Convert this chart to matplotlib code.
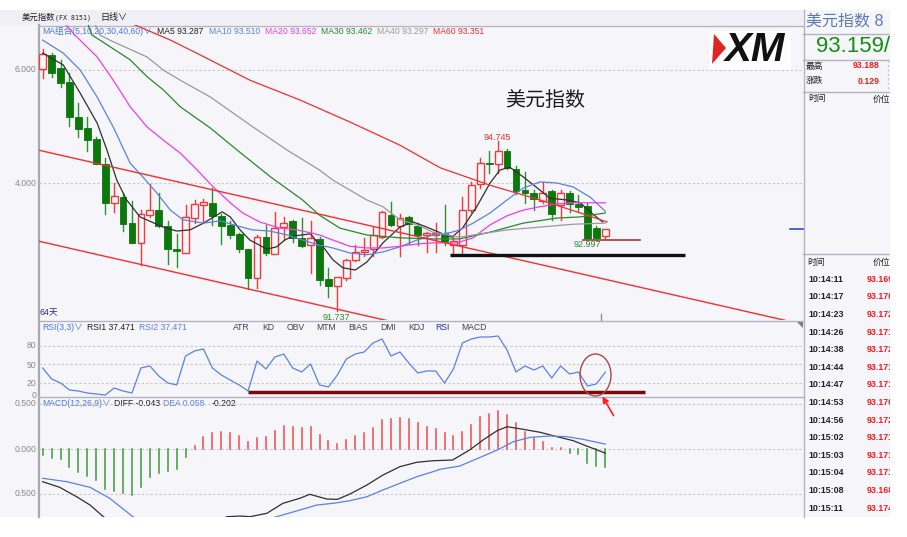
import matplotlib
matplotlib.use("Agg")
import matplotlib.pyplot as plt
from matplotlib.patches import Rectangle, Polygon, Ellipse, FancyArrowPatch

plt.rcParams['font.family'] = ['Liberation Sans', 'Noto Sans CJK SC', 'DejaVu Sans']

W, H = 907, 537
BG = '#f5f5fa'
RED = '#f23a3a'
GREEN = '#0b780b'

## K线数据 (日线, 64根)
opens = [96.01, 96.27, 96.03, 95.79, 95.16, 94.98, 94.78, 94.34, 93.64, 93.76,
         93.29, 92.94, 93.43, 93.52, 93.24, 92.84, 92.76, 93.38, 93.61, 93.64,
         93.42, 93.26, 93.10, 92.84, 92.32, 93.05, 92.74, 93.23, 93.32, 93.03,
         92.90, 93.00, 92.30, 92.17, 92.31, 92.64, 92.78, 92.84, 93.05, 93.43,
         93.24, 93.39, 93.24, 93.08, 93.08, 93.11, 92.90, 92.90, 93.53, 93.98,
         94.36, 94.33, 94.57, 94.24, 93.87, 93.83, 93.69, 93.85, 93.61, 93.82,
         93.62, 93.59, 93.21, 93.06]
highs = [96.37, 96.31, 96.17, 95.94, 95.41, 95.16, 94.82, 94.44, 94.00, 93.82,
         93.68, 93.52, 93.98, 93.82, 93.32, 93.09, 93.61, 93.70, 93.71, 93.91,
         93.46, 93.32, 93.11, 92.84, 93.08, 93.26, 93.48, 93.40, 93.35, 93.38,
         93.33, 93.05, 92.49, 92.33, 92.66, 92.90, 93.02, 93.23, 93.50, 93.67,
         93.46, 93.42, 93.29, 93.14, 93.29, 93.61, 93.05, 93.76, 94.02, 94.44,
         94.57, 94.745, 94.61, 94.30, 94.20, 93.88, 94.02, 93.88, 93.88, 93.85,
         93.79, 93.64, 93.24, 93.18]
lows = [95.85, 95.87, 95.70, 95.01, 94.82, 94.57, 94.33, 93.46, 93.49, 93.15,
        92.93, 92.55, 93.39, 93.23, 92.57, 92.52, 92.76, 93.29, 93.30, 93.26,
        92.92, 93.02, 92.78, 92.12, 92.15, 92.73, 92.74, 92.99, 92.96, 92.87,
        92.40, 92.20, 91.99, 91.737, 92.29, 92.62, 92.71, 92.70, 93.02, 93.24,
        92.70, 92.92, 92.90, 92.78, 92.78, 92.90, 92.76, 92.76, 93.49, 93.92,
        94.17, 94.18, 94.24, 93.80, 93.64, 93.52, 93.65, 93.35, 93.35, 93.49,
        93.49, 92.997, 92.99, 93.00]
closes = [96.28, 95.95, 95.77, 95.17, 94.95, 94.77, 94.34, 93.64, 93.77, 93.27,
          92.94, 93.45, 93.52, 93.24, 92.84, 92.80, 93.40, 93.62, 93.66, 93.42,
          93.24, 93.08, 92.83, 92.32, 93.04, 92.76, 93.20, 93.30, 93.02, 92.89,
          93.02, 92.28, 92.18, 92.33, 92.64, 92.77, 92.81, 93.08, 93.49, 93.26,
          93.38, 93.27, 93.08, 93.11, 93.11, 92.96, 92.98, 93.53, 93.96, 94.35,
          94.345, 94.57, 94.27, 93.85, 93.83, 93.72, 93.82, 93.45, 93.83, 93.62,
          93.58, 93.00, 93.03, 93.18]

## 均线 (读图取点: K线序号, 价格)
ma5_x = [0.0, 2.3, 4.2, 6.1, 7.2, 8.3, 9.4, 10.9, 13.5, 15.0, 16.5, 18.0, 20.1, 21.0,
         22.1, 23.2, 25.1, 26.2, 27.1, 28.0, 30.0, 30.7, 31.4, 32.5, 33.6, 35.0, 36.3,
         38.1, 40.0, 41.5, 43.0, 44.5, 45.8, 47.0, 48.6, 50.1, 51.2, 52.3, 53.8, 55.4,
         56.8, 58.7, 60.2, 61.3, 62.7]
ma5_y = [96.30, 96.09, 95.59, 95.06, 94.58, 94.05, 93.70, 93.40, 93.22, 93.15, 93.17,
         93.29, 93.49, 93.40, 93.17, 92.99, 92.83, 92.87, 92.99, 93.06, 93.10, 92.96,
         92.87, 92.64, 92.50, 92.46, 92.60, 92.94, 93.22, 93.31, 93.22, 93.12, 93.04,
         93.20, 93.58, 94.00, 94.23, 94.28, 94.11, 93.91, 93.73, 93.70, 93.65, 93.49, 93.31]
ma10_x = [0.0, 2.3, 4.2, 6.1, 7.9, 9.8, 11.2, 12.8, 14.3, 15.7, 18.0, 19.9, 21.8, 23.5,
          25.4, 27.4, 29.1, 31.0, 32.5, 34.4, 36.3, 38.1, 40.0, 41.9, 43.7, 45.6, 46.7,
          48.2, 50.1, 52.0, 53.8, 55.7, 57.6, 59.4, 61.3, 63.0]
ma10_y = [96.53, 96.30, 96.00, 95.52, 94.99, 94.35, 94.11, 93.82, 93.52, 93.35, 93.29,
          93.33, 93.24, 93.17, 93.15, 93.08, 92.99, 92.90, 92.85, 92.76, 92.73, 92.78,
          92.87, 92.99, 93.08, 93.12, 93.17, 93.29, 93.47, 93.70, 93.91, 94.02, 94.00,
          93.93, 93.75, 93.50]
ma20_x = [2.6, 3.6, 6.1, 7.9, 9.8, 11.7, 13.5, 15.4, 17.3, 19.1, 21.0, 22.4, 24.3, 26.6,
          28.5, 31.0, 32.5, 34.4, 36.3, 38.1, 40.0, 41.9, 43.7, 46.4, 48.2, 50.1, 52.0,
          53.8, 55.7, 57.6, 59.4, 63.0]
ma20_y = [96.80, 96.62, 96.23, 95.82, 95.35, 94.99, 94.76, 94.53, 94.23, 93.93, 93.65,
          93.47, 93.31, 93.20, 93.17, 93.08, 92.99, 92.88, 92.85, 92.85, 92.88, 92.92,
          92.94, 92.94, 93.03, 93.26, 93.42, 93.52, 93.58, 93.63, 93.65, 93.65]
ma30_x = [5.1, 5.5, 6.4, 9.8, 11.7, 13.5, 15.4, 18.8, 21.8, 25.5, 29.1, 31.0, 33.3, 36.3,
          40.0, 43.7, 46.7, 50.1, 53.8, 57.6, 60.2, 63.0]
ma30_y = [96.80, 96.62, 96.53, 96.18, 95.88, 95.65, 95.35, 94.97, 94.58, 94.11, 93.70,
          93.43, 93.20, 93.08, 93.03, 93.01, 93.01, 93.13, 93.29, 93.38, 93.40, 93.47]
ma40_x = [5.9, 6.4, 7.5, 11.7, 13.5, 15.4, 18.8, 23.2, 27.4, 31.0, 32.5, 36.3, 38.1, 40.0,
          41.9, 43.7, 46.7, 48.2, 52.0, 55.7, 59.4, 63.0]
ma40_y = [96.80, 96.62, 96.53, 96.23, 96.00, 95.82, 95.52, 95.03, 94.58, 94.23, 94.05,
          93.70, 93.58, 93.35, 93.26, 93.13, 93.04, 93.08, 93.17, 93.22, 93.27, 93.29]
ma60_x = [10.3, 14.3, 17.6, 23.2, 28.8, 34.4, 40.0, 44.5, 50.1, 55.7, 60.2, 63.2]
ma60_y = [96.80, 96.53, 96.27, 95.82, 95.47, 95.08, 94.67, 94.27, 93.96, 93.70, 93.47, 93.31]

## RSI(3,3)
rsi = [44.2, 26.6, 20.3, 9.1, 7.5, 4.3, 2.7, 1.1, 12.3, 7.5, 4.3, 44.2, 47.4, 31.4, 20.3,
       17.1, 63.3, 71.3, 74.5, 44.2, 33.0, 25.0, 17.1, 7.5, 55.3, 42.6, 61.7, 66.5, 44.2,
       37.8, 50.6, 17.1, 13.9, 33.0, 58.5, 66.5, 69.7, 84.1, 90.4, 63.3, 69.7, 52.2, 36.2,
       39.4, 39.4, 20.3, 42.6, 84.1, 90.4, 93.6, 93.6, 95.2, 72.9, 37.8, 47.4, 41.0, 47.4,
       28.2, 47.4, 34.6, 37.8, 15.5, 18.7, 37.5]

## MACD(12,26,9)
macd_hist = [-0.063, -0.093, -0.111, -0.193, -0.249, -0.293, -0.341, -0.441, -0.460, -0.489,
             -0.511, -0.422, -0.311, -0.260, -0.241, -0.216, -0.082, 0.040, 0.133, 0.184,
             0.192, 0.184, 0.151, 0.078, 0.129, 0.137, 0.203, 0.259, 0.251, 0.233,
             0.244, 0.156, 0.089, 0.062, 0.103, 0.148, 0.178, 0.233, 0.326, 0.333,
             0.348, 0.333, 0.289, 0.251, 0.222, 0.178, 0.148, 0.196, 0.270, 0.356,
             0.392, 0.422, 0.384, 0.289, 0.196, 0.122, 0.084, 0.018, 0.014, -0.038,
             -0.052, -0.149, -0.186, -0.202]
diff_x = [0.0, 1.9, 3.8, 5.3, 6.8, 9.8, 14.3, 17.6, 20.6, 22.1, 23.2, 25.1, 26.9, 28.8,
          29.9, 31.8, 33.0, 34.4, 36.3, 38.1, 40.0, 41.9, 43.7, 45.9, 47.8, 49.3, 50.9,
          52.0, 53.8, 55.7, 57.6, 59.4, 60.9, 62.1, 63.0]
diff_y = [-0.360, -0.422, -0.527, -0.619, -0.749, -0.95, -1.06, -0.90, -0.749, -0.741,
          -0.749, -0.711, -0.600, -0.544, -0.500, -0.552, -0.556, -0.497, -0.397, -0.286,
          -0.193, -0.144, -0.127, -0.119, -0.008, 0.103, 0.207, 0.251, 0.222, 0.189,
          0.140, 0.096, 0.037, -0.008, -0.043]
dea_x = [0.0, 2.7, 5.3, 7.5, 10.1, 14.3, 21.0, 25.8, 28.8, 30.7, 32.5, 34.4, 36.3, 38.1,
         40.0, 41.9, 43.7, 44.5, 46.7, 49.0, 50.9, 52.7, 54.6, 56.8, 58.7, 60.5, 63.0]
dea_y = [-0.322, -0.360, -0.422, -0.544, -0.749, -1.00, -0.95, -0.760, -0.674, -0.619,
         -0.600, -0.571, -0.527, -0.452, -0.378, -0.304, -0.249, -0.222, -0.186, -0.089,
         -0.008, 0.084, 0.133, 0.148, 0.140, 0.111, 0.058]

## 右侧分笔
tick_times = ['10:14:11', '10:14:17', '10:14:23', '10:14:26', '10:14:38', '10:14:44', '10:14:47',
              '10:14:53', '10:14:56', '10:15:02', '10:15:03', '10:15:04', '10:15:08', '10:15:11']
tick_prices = ['93.169', '93.170', '93.172', '93.171', '93.172', '93.171', '93.171',
               '93.170', '93.172', '93.171', '93.171', '93.171', '93.168', '93.174']

fig = plt.figure(figsize=(W / 100, H / 100), dpi=100)
fig.patch.set_facecolor('white')


def box(x0, y0, x1, y1):
    a = fig.add_axes([x0 / W, 1 - y1 / H, (x1 - x0) / W, (y1 - y0) / H])
    a.set_facecolor('none')
    return a


## fundo / moldura em pixels
bg = box(0, 0, W, H)
bg.set_xlim(0, W)
bg.set_ylim(H, 0)
bg.axis('off')
bg.add_patch(Rectangle((0, 10), 890, 507, facecolor=BG, edgecolor='none'))
bg.add_patch(Rectangle((0, 10), 803, 15, facecolor='#efeff5', edgecolor='none'))
line_c = '#b4b4be'
bg.plot([38.5, 38.5], [25, 517], color='#a8a8b0', lw=1.6)
bg.plot([38, 803], [25.5, 25.5], color=line_c, lw=1)
bg.plot([38, 803], [320.5, 320.5], color=line_c, lw=1)
bg.plot([38, 803], [396.5, 396.5], color=line_c, lw=1)
bg.plot([803.5, 803.5], [10, 517], color=line_c, lw=1)
for yy in [33.5, 59.5, 91.5, 253.5]:
    bg.plot([803, 890], [yy, yy], color=line_c, lw=1)
bg.plot([887.5, 887.5], [60, 91], color='#c8c8d0', lw=0.8, ls=(0, (2, 2)))

## titulo superior
bg.text(22, 17.5, '美元指数', fontsize=6, va='center', color='#202020')
bg.text(55, 17.5, '(FX 8151)', fontsize=4.8, family='DejaVu Sans Mono', va='center', color='#202020')
bg.text(100, 17.5, '日线∨', fontsize=6.5, va='center', color='#202020')

## cabeçalhos dos painéis
fs = 6.2
bg.text(42, 31.5, 'MA组合(5,10,20,30,40,60)∨', fontsize=fs, va='center', color='#4a78e0')
ma_labels = [(157, 'MA5 93.287', '#202020'), (209, 'MA10 93.510', '#5a82e6'),
             (265, 'MA20 93.652', '#f03cf0'), (321, 'MA30 93.462', '#2a8a2a'),
             (377, 'MA40 93.297', '#9a9a9a'), (433, 'MA60 93.351', '#f03030')]
for xx, s, c in ma_labels:
    bg.text(xx, 31.5, s, fontsize=fs, va='center', color=c)

bg.text(42, 328, 'RSI(3,3)∨', fontsize=fs, va='center', color='#4a78e0')
bg.text(87, 328, 'RSI1 37.471', fontsize=fs, va='center', color='#202020')
bg.text(139, 328, 'RSI2 37.471', fontsize=fs, va='center', color='#5a82e6')
tabs = [(233, 'ATR'), (262, 'KD'), (287, 'OBV'), (316, 'MTM'), (348, 'BIAS'),
        (380, 'DMI'), (408, 'KDJ'), (435, 'RSI'), (461, 'MACD')]
for xx, s in tabs:
    bg.text(xx, 328, s, fontsize=fs, va='center', color='#2a2aa8' if s == 'RSI' else '#404048')

bg.text(42, 403, 'MACD(12,26,9)∨', fontsize=fs, va='center', color='#4a78e0')
bg.text(114, 403, 'DIFF -0.043', fontsize=fs, va='center', color='#202020')
bg.text(163, 403, 'DEA 0.058', fontsize=fs, va='center', color='#5a82e6')
bg.text(212, 403, '-0.202', fontsize=fs, va='center', color='#202020')

## rótulos do eixo esquerdo (cortados como no original)
axc = '#8a8a8a'
for yy, s in [(70, '6.000'), (183, '4.000'), (404, '0.500'), (449, '0.000'), (494, '0.500')]:
    bg.text(36.5, yy, s, fontsize=6.2, ha='right', va='center', color=axc)
for yy, s in [(346, '80'), (365, '50'), (383, '20'), (395, '0')]:
    bg.text(36.5, yy, s, fontsize=6.2, ha='right', va='center', color=axc)

bg.text(39, 313, '64天', fontsize=6.3, va='center', color='#2a2a90')
bg.text(545, 100, '美元指数', fontsize=14.4, ha='center', va='center', color='#1a1a1a')

## logo XM
bg.add_patch(Rectangle((710, 31), 81, 39, facecolor='white', edgecolor='none'))
bg.add_patch(Polygon([(714, 34), (726, 48), (712, 64)], closed=True, facecolor='#e02424', edgecolor='none'))
bg.text(755, 50, 'XM', fontsize=29, fontweight='bold', style='italic', ha='center', va='center',
        color='#111111', family='Liberation Sans')

## painel direito
bg.text(806, 21, '美元指数 8', fontsize=11.5, va='center', color='#5b7bb5')
bg.text(816, 47, '93.159/', fontsize=16, va='center', color='#129012')
bg.text(806, 66, '最高', fontsize=6.3, va='center', color='#202020')
bg.text(880, 66, '93.188', fontsize=6.3, ha='right', va='center', color='#f02020', fontweight='bold')
bg.text(806, 81, '涨跌', fontsize=6.3, va='center', color='#202020')
bg.text(880, 81, '0.129', fontsize=6.3, ha='right', va='center', color='#f02020', fontweight='bold')
bg.text(808, 99, '时间', fontsize=6.3, va='center', color='#202020')
bg.text(873, 99, '价位', fontsize=6.3, va='center', color='#202020')
bg.text(807, 262, '时间', fontsize=6.3, va='center', color='#202020')
bg.text(873, 262, '价位', fontsize=6.3, va='center', color='#202020')
for k, (t, p) in enumerate(zip(tick_times, tick_prices)):
    yy = 279.3 + 17.6 * k
    bg.text(808, yy, t, fontsize=6.4, va='center', color='#202030', fontweight='bold')
    bg.text(867, yy, p, fontsize=6.4, va='center', color='#f02020', fontweight='bold')

bg.plot([790, 803], [229, 229], color='#3050c0', lw=1.2)
bg.add_patch(Polygon([(797, 322), (803, 322), (803, 328)], closed=True, facecolor='#7a7a7a'))
bg.plot([600.5, 600.5], [314, 320], color='#909090', lw=1)

## painel de preço
XL = (-0.414, 85.14)
ax = box(39, 25, 803, 320)
ax.set_xlim(*XL)
ax.set_ylim(91.575, 96.797)
ax.axis('off')
grid_kw = dict(color='#c6c6cc', lw=0.8, ls=(0, (2, 2)))
for v in [96, 94]:
    ax.axhline(v, **grid_kw)

bw = 0.76
for i in range(len(opens)):
    o, h, l, c = opens[i], highs[i], lows[i], closes[i]
    if c >= o:
        ax.add_patch(Rectangle((i - bw / 2, o), bw, max(c - o, 0.01), facecolor=BG,
                               edgecolor=RED, lw=1.0, zorder=4))
        ax.plot([i, i], [c, h], color=RED, lw=1.0, zorder=3)
        ax.plot([i, i], [l, o], color=RED, lw=1.0, zorder=3)
    else:
        ax.plot([i, i], [l, h], color='#2f8f2f', lw=1.0, zorder=3)
        ax.add_patch(Rectangle((i - bw / 2, c), bw, max(o - c, 0.012), facecolor=GREEN,
                               edgecolor=GREEN, lw=0.6, zorder=4))

ax.plot(ma5_x, ma5_y, color='#303030', lw=0.9, zorder=5)
ax.plot(ma10_x, ma10_y, color='#5a82e6', lw=0.9, zorder=5)
ax.plot(ma20_x, ma20_y, color='#f03cf0', lw=0.9, zorder=5)
ax.plot(ma30_x, ma30_y, color='#2a8a2a', lw=0.9, zorder=5)
ax.plot(ma40_x, ma40_y, color='#9a9a9a', lw=0.9, zorder=5)
ax.plot(ma60_x, ma60_y, color='#f23030', lw=0.9, zorder=5)

## linhas de tendência desenhadas
ax.plot([-0.53, 84.0], [94.584, 91.538], color='#f23030', lw=1.0, zorder=5)
ax.plot([-0.53, 40.0], [92.973, 91.513], color='#f23030', lw=1.0, zorder=5)
ax.plot([45.6, 71.9], [92.726, 92.726], color='#111111', lw=2.4, solid_capstyle='butt', zorder=6)
ax.plot([60.5, 66.9], [92.991, 92.991], color='#b04848', lw=1.3, zorder=6)

ax.text(50.9, 94.814, '94.745', fontsize=6.5, ha='center', va='center', color='#f03030')
ax.text(60.96, 92.903, '92.997', fontsize=6.5, ha='center', va='center', color='#2e8b2e')
ax.text(32.9, 91.625, '91.737', fontsize=6.5, ha='center', va='center', color='#2e8b2e')

## RSI
ax2 = box(39, 321, 803, 396)
ax2.set_xlim(*XL)
ax2.set_ylim(-0.48, 119.1)
ax2.axis('off')
for v in [80, 50, 20]:
    ax2.axhline(v, **grid_kw)
ax2.plot(range(len(rsi)), rsi, color='#5a82e6', lw=0.9)
ax2.plot([23.0, 67.4], [6.0, 6.0], color='#7a0a0a', lw=2.5, solid_capstyle='butt')

## MACD
ax3 = box(39, 397, 803, 517)
ax3.set_xlim(*XL)
ax3.set_ylim(-0.752, 0.581)
ax3.axis('off')
for v in [0.5, 0.0, -0.5]:
    ax3.axhline(v, **grid_kw)
for i, v in enumerate(macd_hist):
    ax3.plot([i, i], [0, v], color='#f24a4a' if v >= 0 else '#3c9a3c', lw=1.1)
ax3.plot(diff_x, diff_y, color='#303030', lw=0.9)
ax3.plot(dea_x, dea_y, color='#5a82e6', lw=0.9)

## marcação em vermelho no RSI
top = box(0, 0, W, H)
top.set_xlim(0, W)
top.set_ylim(H, 0)
top.axis('off')
top.add_patch(Ellipse((595.5, 375), 31, 42, fill=False, edgecolor='#a84848', lw=1.0))
top.add_patch(FancyArrowPatch((615, 418), (601, 394), arrowstyle='-|>', mutation_scale=9,
                              color='#ff2020', lw=1.2))

## corte à direita
fig.add_artist(Rectangle((890 / W, 0), 17 / W, 1, transform=fig.transFigure,
                         facecolor='white', edgecolor='none', zorder=50))

fig.savefig('out.png', dpi=100, facecolor='white')
